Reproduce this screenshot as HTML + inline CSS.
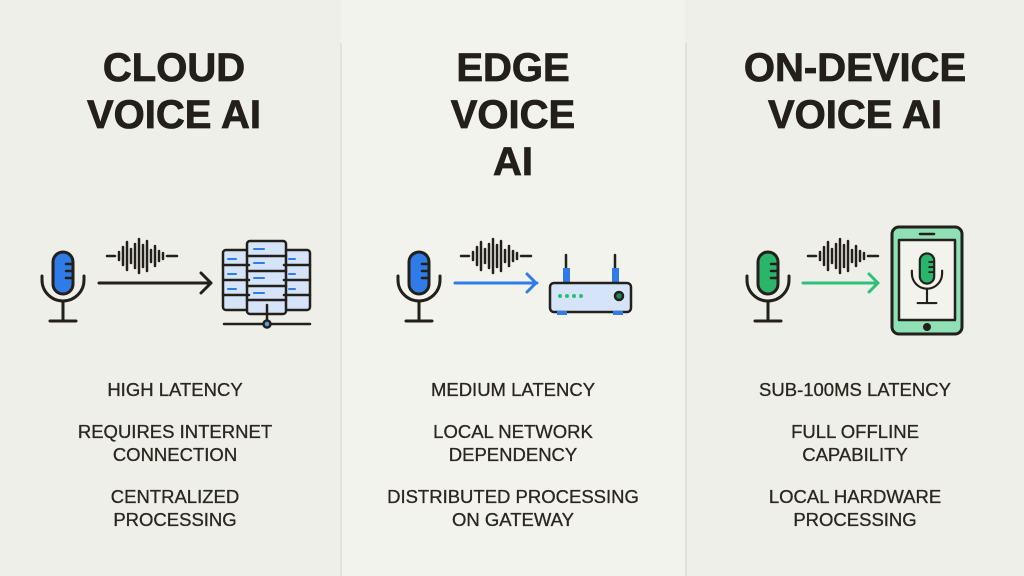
<!DOCTYPE html>
<html><head><style>
body{margin:0;width:1024px;height:576px;background:#eeeee8;font-family:"Liberation Sans",sans-serif;color:#231f1a;position:relative;overflow:hidden}
.p{position:absolute;top:0;height:576px}
.div{position:absolute;top:43px;bottom:0;width:2px;background:#e2e2da}
.t{position:absolute;text-align:center;font-weight:bold;font-size:40px;line-height:47px;letter-spacing:0px;color:#231f1a;-webkit-text-stroke:0.8px #231f1a}
.b{position:absolute;text-align:center;font-size:18.5px;line-height:23px;color:#2a2620;-webkit-text-stroke:0.3px #2a2620}
.b div{margin-bottom:19px}
svg{position:absolute;left:0;top:0}
</style></head><body>
<div class="p" style="left:0;width:340px;background:#efefe9"></div>
<div class="p" style="left:341px;width:344px;background:#f3f3ee"></div>
<div class="p" style="left:686px;width:338px;background:#efefe9"></div>
<div class="div" style="left:340px"></div>
<div class="div" style="left:685px"></div>

<div class="t" style="left:0;width:348px;top:45px">CLOUD<br>VOICE AI</div>
<div class="t" style="left:341px;width:344px;top:45px">EDGE<br>VOICE<br>AI</div>
<div class="t" style="left:686px;width:338px;top:45px">ON-DEVICE<br>VOICE AI</div>

<div class="b" style="left:0;width:350px;top:378px"><div>HIGH LATENCY</div><div>REQUIRES INTERNET<br>CONNECTION</div><div>CENTRALIZED<br>PROCESSING</div></div>
<div class="b" style="left:341px;width:344px;top:378px"><div>MEDIUM LATENCY</div><div>LOCAL NETWORK<br>DEPENDENCY</div><div>DISTRIBUTED PROCESSING<br>ON GATEWAY</div></div>
<div class="b" style="left:686px;width:338px;top:378px"><div>SUB-100MS LATENCY</div><div>FULL OFFLINE<br>CAPABILITY</div><div>LOCAL HARDWARE<br>PROCESSING</div></div>

<svg width="1024" height="576" fill="none" stroke="#231f1a" stroke-width="3" stroke-linecap="round" stroke-linejoin="round">
<defs>
<g id="mic">
<rect x="-10" y="-30" width="20" height="42" rx="10"/>
<path fill="none" d="M3 -18h6M3 -11h6M3 -4h6" stroke-width="2.5"/>
<path fill="none" d="M-21 -6v4a21 21 0 0 0 42 0v-4"/>
<path fill="none" d="M0 19v20M-13 39h26"/>
</g>
<g id="wave" stroke-width="2.5">
<path d="M0 0h8M12 -4v8M16 -9v18M20 -14v28M24 -7v14M28 -12v24M32 -17v34M36 -11v22M40 -15v30M44 -6v12M48 -10v20M52 -5v10M56 -3v6M60 0h10"/>
</g>
</defs>
<!-- cloud -->
<g fill="#2f7be8"><use href="#mic" transform="translate(63,282)"/></g>
<use href="#wave" transform="translate(107,256)"/>
<path d="M99 283h112M201 273l10 10-10 10"/>
<g stroke-width="2.5" fill="#d5e4f8">
<rect x="223" y="250" width="26" height="60" rx="3"/>
<rect x="284" y="250" width="26" height="60" rx="3"/>
<rect x="247" y="241" width="39" height="73" rx="3"/>
<path d="M223 265h26M223 280h26M223 295h26M284 265h26M284 280h26M284 295h26M247 256h39M247 271h39M247 286h39M247 300h39"/>
<path d="M224 324h86M267 305v19"/>
<circle cx="267" cy="324" r="3.5" fill="#5a9be8"/>
</g>
<g stroke="#2f7be8" stroke-width="2"><path d="M254 249h10M254 263h10M254 278h10M254 293h10M228 259h8M228 274h8M228 289h8M289 259h6M289 274h6M289 289h6"/></g>
<!-- edge -->
<g fill="#2f7be8"><use href="#mic" transform="translate(419,282)"/></g>
<use href="#wave" transform="translate(461,256)"/>
<path d="M455 283h82M527 274l9 9-9 9" stroke="#2f7be8"/>
<g stroke-width="2.5">
<path d="M566 283v-28M615 283v-28"/>
<rect x="563" y="268" width="7" height="18" fill="#2f7be8" stroke="none"/>
<rect x="612" y="268" width="7" height="18" fill="#2f7be8" stroke="none"/>
<rect x="550" y="283" width="81" height="29" rx="4" fill="#d5e4f8"/>
<rect x="557" y="311" width="10" height="4" fill="#2f7be8" stroke="none"/>
<rect x="613" y="311" width="10" height="4" fill="#2f7be8" stroke="none"/>
<circle cx="619" cy="296" r="4" fill="#1e8a5a"/>
</g>
<g fill="#2cc070" stroke="none"><circle cx="560" cy="296" r="2"/><circle cx="567" cy="296" r="2"/><circle cx="574" cy="296" r="2"/><circle cx="581" cy="296" r="2"/></g>
<!-- on-device -->
<g fill="#2ab56a"><use href="#mic" transform="translate(768,282)"/></g>
<use href="#wave" transform="translate(808,256)"/>
<path d="M803 283h75M869 274l9 9-9 9" stroke="#2cc07a"/>
<rect x="892" y="227" width="70" height="107" rx="7" fill="#8fe0b4"/>
<rect x="899" y="240" width="56" height="80" fill="#f3f3ee" stroke-width="2.5"/>
<path d="M920 234h14" stroke-width="2.5"/>
<circle cx="927" cy="327" r="2.5" fill="#231f1a"/>
<g transform="translate(927,275) scale(0.72)" fill="#2ab56a"><use href="#mic"/></g>
</svg>
</body></html>
